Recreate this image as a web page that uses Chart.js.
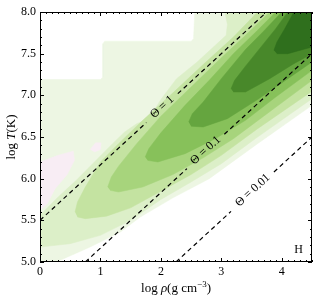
<!DOCTYPE html>
<html>
<head>
<meta charset="utf-8">
<script src="https://cdn.jsdelivr.net/npm/chart.js@4.4.1/dist/chart.umd.min.js"></script>
<style>
  html, body { margin: 0; padding: 0; background: #fff; }
</style>
</head>
<body>
<canvas id="chart" width="317" height="300"></canvas>
<script>
// axis ticks
const rhoTicks = [0, 1, 2, 3, 4];
const tempTicks = [5.0, 5.5, 6.0, 6.5, 7.0, 7.5, 8.0];

// filled contour levels, [log rho, log T], outermost first
const level0 = [[0,5.0],[0.27,5.0],[0.83,5.18],[1.33,5.36],[1.66,5.54],[2.2,5.77],[2.8,6.0],[3.6,6.42],[4.5,6.88],[4.5,8.0],[2.56,8.0],[2.54,7.68],[2.5,7.65],[1.07,7.65],[1.04,7.62],[1.04,7.22],[1.0,7.19],[0,7.19]];
const pinkA = [[0,6.2],[0.3,6.28],[0.55,6.33],[0.57,6.22],[0.45,6.05],[0.25,5.88],[0.12,5.7],[0,5.62]];
const pinkB = [[0.83,6.35],[0.92,6.43],[1.01,6.43],[1.0,6.35],[0.9,6.32]];
const level1 = [[0,5.56],[0.3,5.78],[0.6,5.98],[0.9,6.2],[1.2,6.42],[1.4,6.56],[1.6,6.66],[1.8,6.72],[2.0,6.95],[2.26,7.2],[2.6,7.4],[2.9,7.6],[3.08,7.72],[3.1,7.85],[3.06,8.0],[4.5,8.0],[4.5,6.96],[3.6,6.5],[3.0,6.18],[2.5,5.96],[2.0,5.75],[1.5,5.5],[1.0,5.32],[0.5,5.22],[0,5.18]];
const level2 = [[0.58,5.6],[0.62,5.72],[0.75,5.9],[1.0,6.2],[1.3,6.42],[1.7,6.7],[2.2,7.03],[2.7,7.37],[3.2,7.7],[3.6,8.0],[4.5,8.0],[4.5,7.05],[3.6,6.6],[3.0,6.28],[2.5,6.05],[2.0,5.85],[1.5,5.65],[1.1,5.55],[0.75,5.52],[0.62,5.54]];
const level3 = [[1.12,5.9],[1.18,6.02],[1.3,6.15],[1.6,6.42],[2.0,6.75],[2.5,7.1],[3.0,7.45],[3.4,7.72],[3.8,8.0],[4.5,8.0],[4.5,7.18],[3.7,6.75],[3.2,6.48],[2.7,6.25],[2.2,6.05],[1.7,5.9],[1.3,5.84],[1.16,5.86]];
const level4 = [[1.74,6.26],[1.8,6.36],[2.0,6.55],[2.4,6.88],[2.8,7.18],[3.2,7.5],[3.6,7.78],[3.9,8.0],[4.5,8.0],[4.5,7.3],[3.9,6.98],[3.4,6.7],[2.9,6.48],[2.4,6.3],[1.95,6.2],[1.78,6.22]];
const level5 = [[2.46,6.68],[2.52,6.78],[2.7,6.92],[3.0,7.2],[3.4,7.55],[3.7,7.77],[4.0,8.0],[4.5,8.0],[4.5,7.4],[4.1,7.2],[3.6,6.95],[3.1,6.72],[2.7,6.62],[2.5,6.63]];
const level6 = [[3.16,7.08],[3.22,7.18],[3.4,7.35],[3.7,7.62],[3.9,7.8],[4.1,8.0],[4.5,8.0],[4.5,7.5],[4.2,7.38],[3.8,7.2],[3.4,7.04],[3.2,7.04]];
const level7 = [[3.87,7.54],[3.92,7.64],[4.05,7.8],[4.2,8.0],[4.5,8.0],[4.5,7.58],[4.1,7.5],[3.92,7.5]];

const levelColors = ['#edf6e3', '#dcefc8', '#c4e3a1', '#a7d47c', '#87c15a', '#65a53f', '#48882a', '#2f6f1d'];
const pinkColor = '#f8edf4';

// degeneracy lines, broken where the label sits
const thetaNames = ['\u0398 = 1', '\u0398 = 0.1', '\u0398 = 0.01'];
const thetaLines = [
  [[[0, 5.5], [1.76, 6.673]], [[2.28, 7.02], [3.75, 8.0]]],
  [[[0.75, 5.0], [2.43, 6.12]], [[3.05, 6.533], [4.5, 7.5]]],
  [[[2.25, 5.0], [3.16, 5.607]], [[3.87, 6.08], [4.5, 6.5]]]
];
const thetaLabelPos = [[2.02, 6.86], [2.74, 6.34], [3.52, 5.86]];

const serif = "'Liberation Serif', 'DejaVu Serif', serif";

let toXY = pts => pts.map(p => ({x: p[0], y: p[1]}));

let shape = (pts, color, order) => ({
  data: toXY(pts),
  backgroundColor: color,
  borderColor: color,
  borderWidth: 0.5,
  pointRadius: 0,
  fill: 'shape',
  tension: 0,
  order: order
});

const datasets = [];
datasets.push(shape(level0, levelColors[0], 30));
datasets.push(shape(pinkA, pinkColor, 29));
datasets.push(shape(pinkB, pinkColor, 29));
[level1, level2, level3, level4, level5, level6, level7].forEach(function (lv, i) {
  datasets.push(shape(lv, levelColors[i + 1], 28 - i));
});
thetaLines.forEach(function (segs) {
  segs.forEach(function (seg) {
    datasets.push({
      data: toXY(seg),
      borderColor: '#000',
      borderWidth: 1.2,
      borderDash: [4.5, 3.5],
      pointRadius: 0,
      fill: false,
      order: 1
    });
  });
});

// draw a run of [text, font] pieces starting at x=0, baseline 0
let drawRuns = (ctx, runs) => {
  let w = 0;
  runs.forEach(r => { ctx.font = r[1]; w += ctx.measureText(r[0]).width; });
  let x = -w / 2;
  runs.forEach(r => {
    ctx.font = r[1];
    ctx.fillText(r[0], x, r[2] || 0);
    x += ctx.measureText(r[0]).width;
  });
};

// inside ticks on all four sides, axis titles, labels for theta lines and panel tag
const decorations = {
  id: 'decorations',
  afterDatasetsDraw(chart) {
    const ctx = chart.ctx;
    const xs = chart.scales.x, ys = chart.scales.y;
    const a = chart.chartArea;
    ctx.save();

    // theta labels
    ctx.fillStyle = '#000';
    ctx.font = '12px ' + serif;
    ctx.textAlign = 'center';
    ctx.textBaseline = 'middle';
    thetaLabelPos.forEach(function (p, i) {
      const seg = thetaLines[i][0];
      const dx = xs.getPixelForValue(seg[1][0]) - xs.getPixelForValue(seg[0][0]);
      const dy = ys.getPixelForValue(seg[1][1]) - ys.getPixelForValue(seg[0][1]);
      ctx.save();
      ctx.translate(xs.getPixelForValue(p[0]), ys.getPixelForValue(p[1]));
      ctx.rotate(Math.atan2(dy, dx));
      ctx.fillText(thetaNames[i], 0, 0);
      ctx.restore();
    });

    ctx.font = '12px ' + serif;
    ctx.fillText('H', xs.getPixelForValue(4.28), ys.getPixelForValue(5.15));

    // axis titles
    ctx.textAlign = 'left';
    ctx.textBaseline = 'alphabetic';
    const rm = '13px ' + serif, it = 'italic 13px ' + serif, sup = '9px ' + serif;
    ctx.save();
    ctx.translate((a.left + a.right) / 2, 292);
    drawRuns(ctx, [['log ', rm], ['\u03c1', it], ['(g cm', rm], ['\u22123', sup, -5], [')', rm]]);
    ctx.restore();
    ctx.save();
    ctx.translate(15, (a.top + a.bottom) / 2);
    ctx.rotate(-Math.PI / 2);
    drawRuns(ctx, [['log ', rm], ['T', it], ['(K)', rm]]);
    ctx.restore();

    // frame
    ctx.strokeStyle = '#000';
    ctx.lineWidth = 1;
    ctx.strokeRect(a.left + 0.5, a.top + 0.5, a.right - a.left - 1, a.bottom - a.top - 1);

    // ticks
    ctx.beginPath();
    for (let i = 0; i <= 45; i++) {
      const v = i / 10;
      const len = (i % 10 === 0) ? 4 : 2;
      const px = Math.round(xs.getPixelForValue(v)) + 0.5;
      ctx.moveTo(px, a.bottom); ctx.lineTo(px, a.bottom - len);
      ctx.moveTo(px, a.top); ctx.lineTo(px, a.top + len);
    }
    for (let i = 50; i <= 80; i++) {
      const v = i / 10;
      const len = (i % 5 === 0) ? 4 : 2;
      const py = Math.round(ys.getPixelForValue(v)) + 0.5;
      ctx.moveTo(a.left, py); ctx.lineTo(a.left + len, py);
      ctx.moveTo(a.right, py); ctx.lineTo(a.right - len, py);
    }
    ctx.stroke();
    ctx.restore();
  }
};

new Chart(document.getElementById('chart').getContext('2d'), {
  type: 'line',
  data: {datasets: datasets},
  options: {
    responsive: false,
    animation: false,
    devicePixelRatio: 1,
    layout: {padding: {top: 12, right: 5, left: 0, bottom: 0}},
    plugins: {legend: {display: false}, tooltip: {enabled: false}},
    scales: {
      x: {
        type: 'linear', min: 0, max: 4.5,
        grid: {display: false, drawTicks: false},
        border: {display: false},
        afterBuildTicks: s => { s.ticks = rhoTicks.map(v => ({value: v})); },
        afterFit: s => { s.height = 38; },
        ticks: {padding: 3, color: '#000', font: {family: serif, size: 12}, callback: v => String(v)}
      },
      y: {
        type: 'linear', min: 5, max: 8,
        grid: {display: false, drawTicks: false},
        border: {display: false},
        afterBuildTicks: s => { s.ticks = tempTicks.map(v => ({value: v})); },
        afterFit: s => { s.width = 40; },
        ticks: {padding: 4, color: '#000', font: {family: serif, size: 12}, callback: v => v.toFixed(1)}
      }
    }
  },
  plugins: [decorations]
});
</script>
</body>
</html>
